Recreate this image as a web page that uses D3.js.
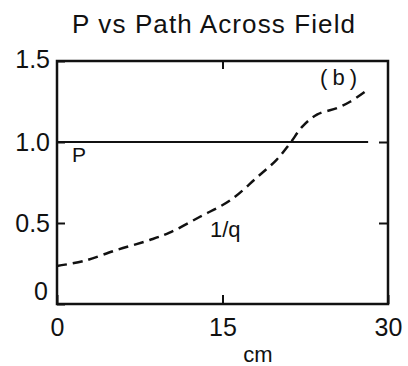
<!DOCTYPE html>
<html>
<head>
<meta charset="utf-8">
<script src="https://cdn.jsdelivr.net/npm/d3@7/dist/d3.min.js"></script>
<style>
  html, body { margin: 0; padding: 0; background: #fff; }
  svg { display: block; }
  text { font-family: "Liberation Sans Narrow", "Liberation Sans", sans-serif; fill: #111; }
</style>
</head>
<body>
<svg id="chart" width="408" height="366"></svg>
<script>
// Distance across the field (cm) and the 1/q profile along that path
const pathCm   = [0, 2.4, 5.4, 8.4, 10.2, 13.0, 15.7, 18.1, 19.9, 21.1, 22.3, 23.6, 25.4, 26.6, 27.9];
const invQ     = [0.235, 0.265, 0.333, 0.395, 0.44, 0.54, 0.64, 0.78, 0.89, 0.99, 1.10, 1.17, 1.21, 1.25, 1.31];

// P stays constant at 1.0 along the path
const pCm      = [0, 28.2];
const pValue   = [1.0, 1.0];

// Axis ticks
const xTicks   = [0, 15, 30];
const yTicks   = [0, 0.5, 1.0, 1.5];
const yTickLabels = ["0", "0.5", "1.0", "1.5"];

const svg = d3.select("#chart");
const ink = "#111";

const x = d3.scaleLinear().domain([0, 30]).range([57, 388]);
const y = d3.scaleLinear().domain([0, 1.5]).range([304, 61]);

// Title
const title = svg.append("text")
  .attr("x", 72).attr("y", 33)
  .style("font-size", "26px")
  .text("P vs Path Across Field");
title.attr("textLength", 283).attr("lengthAdjust", "spacing");

// Bottom axis with labels, ticks pointing inward
const gx = svg.append("g")
  .attr("transform", `translate(0,${y(0)})`)
  .call(d3.axisBottom(x).tickValues(xTicks).tickSize(-9).tickPadding(14).tickFormat(d3.format("d")));
gx.select(".domain").remove();
gx.selectAll("line").attr("stroke", ink).attr("stroke-width", 2);
gx.selectAll("text").style("font-size", "25px").attr("fill", ink)
  .style("font-family", "'Liberation Sans Narrow', sans-serif");

// Left axis with labels, ticks pointing inward
const gy = svg.append("g")
  .attr("transform", `translate(${x(0)},0)`)
  .call(d3.axisLeft(y).tickValues(yTicks).tickSize(-8).tickPadding(7)
    .tickFormat((d, i) => yTickLabels[i]));
gy.select(".domain").remove();
gy.selectAll("line").attr("stroke", ink).attr("stroke-width", 2);
gy.selectAll("text").style("font-size", "25px").attr("fill", ink)
  .style("font-family", "'Liberation Sans Narrow', sans-serif");
// the zero label sits a little above the corner
gy.selectAll(".tick").filter(d => d === 0).select("text").attr("y", -13).attr("x", -9);
gy.selectAll(".tick").filter(d => d === 1.5).select("text").attr("y", -2);

// Right and top axes: inward ticks only
const gr = svg.append("g")
  .attr("transform", `translate(${x(30)},0)`)
  .call(d3.axisRight(y).tickValues([0.5, 1.0]).tickSize(-9).tickFormat(""));
gr.select(".domain").remove();
gr.selectAll("line").attr("stroke", ink).attr("stroke-width", 2);

const gt = svg.append("g")
  .attr("transform", `translate(0,${y(1.5)})`)
  .call(d3.axisTop(x).tickValues([15]).tickSize(-8).tickFormat(""));
gt.select(".domain").remove();
gt.selectAll("line").attr("stroke", ink).attr("stroke-width", 2);

// Frame
svg.append("rect")
  .attr("x", x(0)).attr("y", y(1.5))
  .attr("width", x(30) - x(0)).attr("height", y(0) - y(1.5))
  .attr("fill", "none").attr("stroke", ink).attr("stroke-width", 2.5);

// P line
const line = d3.line().x(d => x(d[0])).y(d => y(d[1]));
svg.append("path")
  .datum(d3.zip(pCm, pValue))
  .attr("d", line)
  .attr("fill", "none").attr("stroke", ink).attr("stroke-width", 2.2);

// 1/q dashed curve
svg.append("path")
  .datum(d3.zip(pathCm, invQ))
  .attr("d", line.curve(d3.curveCatmullRom.alpha(0.5)))
  .attr("fill", "none").attr("stroke", ink).attr("stroke-width", 2.5)
  .attr("stroke-dasharray", "10,6");

// Curve labels
svg.append("text").attr("x", 72).attr("y", 162).style("font-size", "21px").text("P");
svg.append("text").attr("x", 210).attr("y", 237).style("font-size", "22px").text("1/q");
svg.append("text").attr("x", 320).attr("y", 85).style("font-size", "22px")
  .attr("textLength", 37).attr("lengthAdjust", "spacing").text("(b)");

// Axis title
svg.append("text").attr("x", 258).attr("y", 362)
  .attr("text-anchor", "middle").style("font-size", "22px").text("cm");
</script>
</body>
</html>
